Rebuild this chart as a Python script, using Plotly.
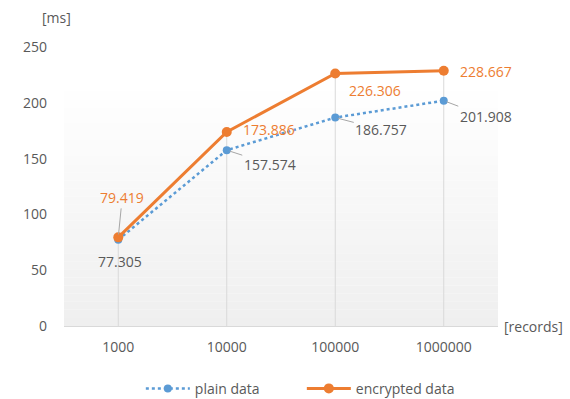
import plotly.graph_objects as go

categories = ["1000", "10000", "100000", "1000000"]
plain = [77.305, 157.574, 186.757, 201.908]
encrypted = [79.419, 173.886, 226.306, 228.667]
y_ticks = [0, 50, 100, 150, 200, 250]

BLUE = "#5b9bd5"
ORANGE = "#ed7d31"
GREY_TXT = "#595959"
FONT = "Open Sans"

fig = go.Figure()

# gradient plot background (white top -> light grey bottom)
n = 30
top = 0.87
for i in range(n):
    c = int(round(255 - (255 - 239) * (i / (n - 1))))
    fig.add_shape(type="rect", xref="x domain", yref="y domain",
                  x0=0, x1=1, y0=top * (1 - (i + 1) / n), y1=top * (1 - i / n),
                  fillcolor=f"rgb({c},{c},{c})", line_width=0, layer="below")
# drop lines from max value to axis
for i, (p, e) in enumerate(zip(plain, encrypted)):
    fig.add_shape(type="line", xref="x", yref="y", x0=i, x1=i, y0=0, y1=max(p, e),
                  line=dict(color="#d9d9d9", width=1), layer="below")

fig.add_trace(go.Scatter(x=categories, y=plain, name="plain data", mode="lines+markers",
                         line=dict(color=BLUE, width=2.5, dash="dot"),
                         marker=dict(color=BLUE, size=8, symbol="circle")))
fig.add_trace(go.Scatter(x=categories, y=encrypted, name="encrypted data", mode="lines+markers",
                         line=dict(color=ORANGE, width=3),
                         marker=dict(color=ORANGE, size=10, symbol="circle")))

lab_font = dict(family=FONT, size=14)
# (ax, ay, leader line)
enc_off = [(4, -40, True), (42, -2, False), (40, 17, False), (42, 1, False)]
plain_off = [(2, 22, False), (43, 14, True), (46, 12, True), (42, 16, True)]


def add_labels(values, offsets, color):
    for i, (v, (ax, ay, arr)) in enumerate(zip(values, offsets)):
        if arr:
            fig.add_annotation(x=i, y=v, text=f"{v:.3f}", showarrow=True, ax=ax, ay=ay,
                               arrowhead=0, arrowwidth=1, arrowcolor="#a6a6a6", standoff=3,
                               font=dict(lab_font, color=color))
        else:
            fig.add_annotation(x=i, y=v, text=f"{v:.3f}", showarrow=False,
                               xshift=ax, yshift=-ay, font=dict(lab_font, color=color))


add_labels(encrypted, enc_off, ORANGE)
add_labels(plain, plain_off, GREY_TXT)

fig.add_annotation(xref="paper", yref="paper", x=0, y=1, xshift=-8, yshift=30,
                   xanchor="center", yanchor="middle", text="[ms]", showarrow=False,
                   font=dict(family=FONT, size=14, color=GREY_TXT))
fig.add_annotation(xref="paper", yref="paper", x=1, y=0, xshift=4,
                   xanchor="left", yanchor="middle", text="[records]", showarrow=False,
                   font=dict(family=FONT, size=14, color=GREY_TXT))

fig.update_layout(
    width=570, height=399,
    margin=dict(l=64, r=72, t=47, b=73, autoexpand=False),
    paper_bgcolor="white", plot_bgcolor="white",
    font=dict(family=FONT, size=14, color=GREY_TXT),
    showlegend=True,
    legend=dict(orientation="h", x=0.548, xanchor="center", y=-0.225, yanchor="middle",
                itemwidth=44, entrywidth=102, entrywidthmode="pixels",
                font=dict(family=FONT, size=14, color=GREY_TXT)),
    xaxis=dict(type="category", range=[-0.5, 3.5], showgrid=False, showline=True,
               linecolor="#d9d9d9", linewidth=1, ticks="", zeroline=False,
               ticklabelstandoff=8,
               tickfont=dict(family=FONT, size=14, color=GREY_TXT)),
    yaxis=dict(range=[0, 250], tickvals=y_ticks, showgrid=False, showline=False,
               zeroline=False, ticks="", ticklabelstandoff=16,
               tickfont=dict(family=FONT, size=14, color=GREY_TXT)),
)

fig.write_html("out.html", config={"displayModeBar": False},
               post_script="document.body.style.margin='0';")
